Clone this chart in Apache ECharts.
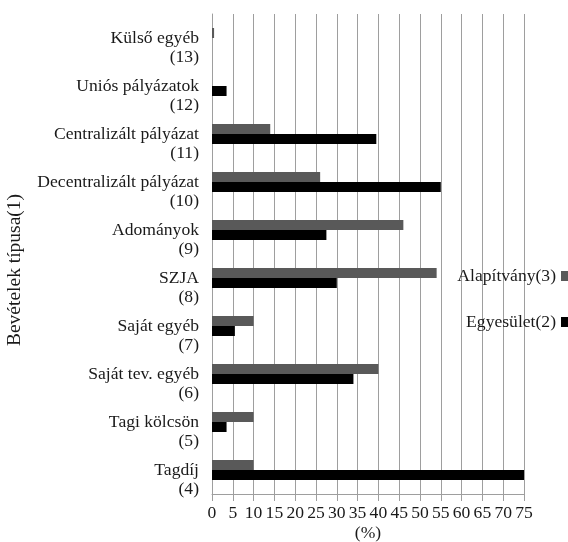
<!DOCTYPE html>
<html>
<head>
<meta charset="utf-8">
<script src="https://cdn.jsdelivr.net/npm/echarts@6/dist/echarts.min.js"></script>
<style>
html,body{margin:0;padding:0;background:#fff;}
#c{width:568px;height:542px;}
</style>
</head>
<body>
<div id="c"></div>
<script>
var categories = ['Külső egyéb','Uniós pályázatok','Centralizált pályázat','Decentralizált pályázat','Adományok','SZJA','Saját egyéb','Saját tev. egyéb','Tagi kölcsön','Tagdíj'];
var codes = ['(13)','(12)','(11)','(10)','(9)','(8)','(7)','(6)','(5)','(4)'];
var alapitvany = [0.5, 0, 14, 26, 46, 54, 10, 40, 10, 10];
var egyesulet = [0, 3.5, 39.5, 55, 27.5, 30, 5.5, 34, 3.5, 75];
var seriesNames = ['Alapítvány(3)','Egyesület(2)'];
var xTicks = {min:0, max:75, interval:5};
var yTitle = 'Bevételek típusa(1)';
var xTitle = '(%)';

var FONT = 'Liberation Serif';
var FS = 17.6;
var TXT = '#1a1a1a';
var GRID = '#9e9e9e';

var chart = echarts.init(document.getElementById('c'), null, {renderer:'canvas'});
chart.setOption({
  animation:false,
  backgroundColor:'#fff',
  textStyle:{fontFamily:FONT},
  grid:{left:212, right:44, top:14, bottom:48, containLabel:false, outerBoundsMode:'none'},
  legend:[
    {data:[seriesNames[0]], orient:'vertical', right:-8, top:262, align:'right',
     itemWidth:10, itemHeight:10, icon:'rect', itemGap:5,
     textStyle:{fontFamily:FONT, fontSize:FS, color:TXT}},
    {data:[seriesNames[1]], orient:'vertical', right:-8, top:308, align:'right',
     itemWidth:10, itemHeight:10, icon:'rect', itemGap:5,
     textStyle:{fontFamily:FONT, fontSize:FS, color:TXT}}
  ],
  xAxis:{
    type:'value', min:xTicks.min, max:xTicks.max, interval:xTicks.interval,
    name:xTitle, nameLocation:'middle', nameGap:30, nameMoveOverlap:false,
    nameTextStyle:{fontFamily:FONT, fontSize:FS, color:TXT},
    axisLine:{show:true, lineStyle:{color:GRID, width:1}},
    axisTick:{show:true, length:7, lineStyle:{color:GRID}},
    splitLine:{show:true, lineStyle:{color:GRID, width:1}},
    axisLabel:{fontFamily:FONT, fontSize:FS, color:TXT, margin:10, hideOverlap:false}
  },
  yAxis:{
    type:'category', data:categories, inverse:true,
    axisLine:{show:true, lineStyle:{color:GRID}},
    axisTick:{show:false},
    axisLabel:{
      fontFamily:FONT, fontSize:FS, color:TXT, margin:13, lineHeight:19, interval:0,
      formatter:function(v, i){ return '\n' + v + '\n' + codes[i]; }
    }
  },
  graphic:[{
    type:'text', x:15, y:270, rotation:Math.PI/2,
    style:{text:yTitle, fontFamily:FONT, fontSize:19.5, fill:TXT, textAlign:'center', textVerticalAlign:'middle'}
  }],
  series:[
    {name:seriesNames[0], type:'bar', data:alapitvany, barWidth:10, barGap:'0%',
     itemStyle:{color:'#595959'}},
    {name:seriesNames[1], type:'bar', data:egyesulet, barWidth:10, barGap:'0%',
     itemStyle:{color:'#000000'}}
  ]
});
</script>
</body>
</html>
